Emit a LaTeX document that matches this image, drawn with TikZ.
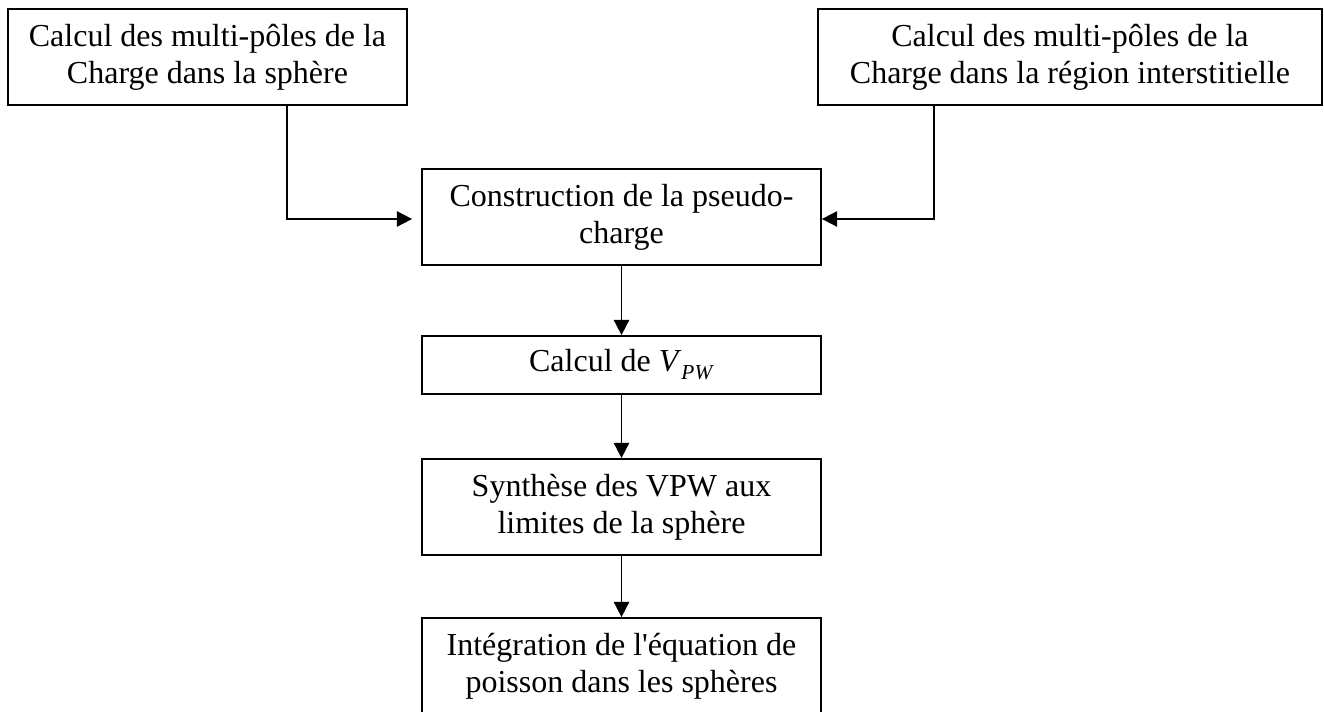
\documentclass[tikz,border=0pt]{standalone}
\usepackage{fontspec}
\setmainfont{Liberation Serif}[Ligatures=TeXOff]
\usetikzlibrary{arrows.meta}
\begin{document}
\begin{tikzpicture}[x=0.75pt,y=-0.75pt,
  box/.style={draw=black,line width=1.3pt,fill=white,inner sep=0pt,align=center,
    font=\fontsize{24pt}{27.7pt}\selectfont,minimum height=72pt},
  wbox/.style={box,minimum width=299.25pt},
  arr/.style={draw=black,line width=1.3pt,-{Triangle[length=11.5pt,width=11.5pt]}}]
\useasboundingbox (0,0) rectangle (1324,712);
\node[wbox] (b1) at (207.5,57) {Calcul des multi-pôles de la\\Charge dans la sphère};
\node[box,minimum width=378pt] (b2) at (1070,57) {Calcul des multi-pôles de la\\Charge dans la région interstitielle};
\node[wbox] (c) at (621.5,217) {Construction de la pseudo-\\charge};
\node[wbox,minimum height=43.5pt] (v) at (621.5,365) {Calcul de \textit{V}\raisebox{-0.25em}{\fontsize{16pt}{16pt}\selectfont\textit{PW}}};
\node[wbox] (s) at (621.5,507) {Synthèse des VPW aux\\limites de la sphère};
\node[wbox] (i) at (621.5,666) {Intégration de l'équation de\\poisson dans les sphères};
\draw[arr,shorten >=6.75pt] ([xshift=59.6pt]b1.south) |- ([yshift=-1.5pt]c.west);
\draw[arr] ([xshift=-102pt]b2.south) |- ([yshift=-1.5pt]c.east);
\draw[arr] (c) -- (v);
\draw[arr] (v) -- (s);
\draw[arr] (s) -- (i);
\end{tikzpicture}
\end{document}
